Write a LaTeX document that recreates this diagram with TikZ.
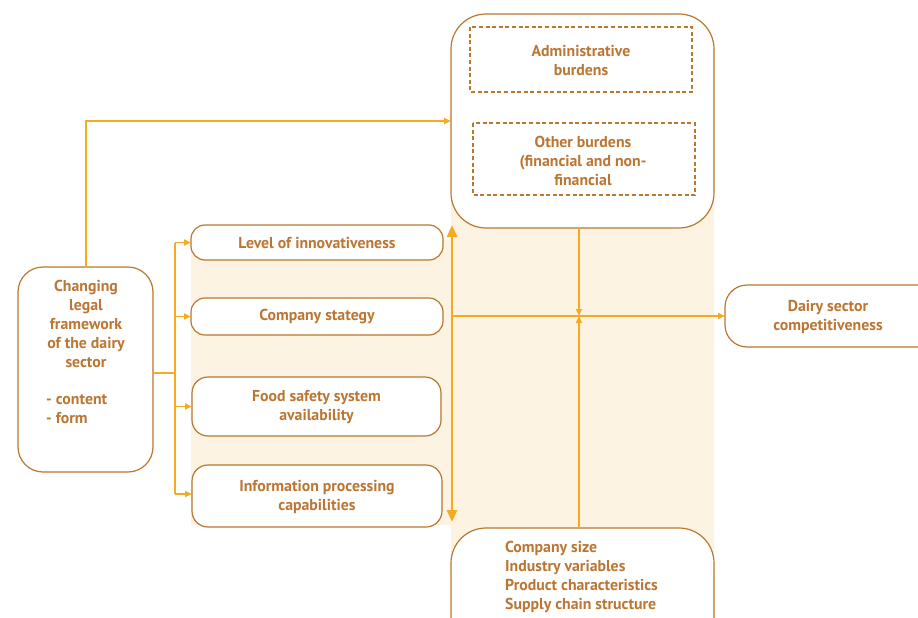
\documentclass[tikz,border=0pt]{standalone}
\usepackage{fontspec}
\setmainfont{PT Sans}
\usetikzlibrary{arrows.meta}
\definecolor{edge}{HTML}{B9772F}
\definecolor{ink}{HTML}{BB7633}
\definecolor{flow}{HTML}{F6AA1F}
\definecolor{cream}{HTML}{FDF3E3}
\begin{document}
\begin{tikzpicture}[x=1pt,y=-1pt,
  txt/.style={text=ink,font=\fontsize{15.8}{19}\selectfont\bfseries,inner sep=0pt},
  box/.style={draw=edge,line width=1.2pt,fill=white,rounded corners=#1},
  box/.default=14pt,
  burden/.style={draw=edge,line width=1.6pt,dash pattern=on 4pt off 2.6pt},
  link/.style={draw=flow,line width=1.8pt,-{Triangle[length=7pt,width=6pt]}},
  plain/.style={draw=flow,line width=1.8pt},
  bigarrow/.style={draw=flow,line width=2.6pt,{Triangle[length=12pt,width=10pt]}-{Triangle[length=12pt,width=10pt]}}]
\useasboundingbox (0,0) rectangle (918,618);

% cream band behind the middle column
\fill[cream] (191,240) rectangle (451,525);
\fill[cream] (451,150) rectangle (714,618);

% left box: the legal framework
\draw[box=25pt] (18,267) rectangle (153,472);
\node[txt,align=center,anchor=north] (lawtxt) at (86,280)
  {Changing\\legal\\framework\\of the dairy\\sector};
\node[txt,align=left,anchor=north west] (lawlist) at (46,394.5) {- content\\- form};
\coordinate (lawtop) at (86,267);
\coordinate (lawright) at (153,373);

% four company factors (box outline plus a named entry point on its left side)
\draw[box=14pt] (191,225) rectangle (443,260);
\coordinate (lvlin) at (191,242.5);
\node[txt] (lvl) at (317,243) {Level of innovativeness};
\draw[box=14pt] (191,298) rectangle (443,335);
\coordinate (stratin) at (191,316.5);
\node[txt] (strat) at (317,317) {Company stategy};
\draw[box=16pt] (192,377) rectangle (441,436);
\coordinate (foodin) at (192,406.5);
\node[txt,align=center] (food) at (316.5,407) {Food safety system\\availability};
\draw[box=16pt] (192,465) rectangle (442,527);
\coordinate (infoin) at (192,494);
\node[txt,align=center] (info) at (317,496.5) {Information processing\\capabilities};

% burdens box
\draw[box=35pt] (451,14) rectangle (714,228);
\coordinate (burdwest) at (451,121);
\coordinate (burdsouth) at (579,228);
\draw[burden] (470,27) rectangle (692,92);
\node[txt,align=center] (admin) at (581,60) {Administrative\\burdens};
\draw[burden] (473,123) rectangle (695,195);
\node[txt,align=center] (other) at (583,160.5) {Other burdens\\(financial and non-\\financial};

% outcome
\draw[box=22pt] (725,285) rectangle (960,347);
\coordinate (dairywest) at (725,316);
\node[txt,align=center] (dairy) at (828,316.5) {Dairy sector\\competitiveness};

% contextual variables
\draw[box=35pt] (451,528) rectangle (714,660);
\coordinate (ctxnorth) at (579,528);
\node[txt,align=left,anchor=north west] (ctx) at (505,541.5)
  {Company size\\Industry variables\\Product characteristics\\Supply chain structure};

% connectors
\coordinate (bus) at (175,373);
\coordinate (hub) at (579,316);
\coordinate (axis) at (452,316);
\coordinate (axtop) at (452,225);
\coordinate (axbot) at (452,522);

\draw[link] (lawtop) |- (burdwest);
\draw[plain] (lawright) -- (bus);
\draw[plain] (bus |- lvlin) -- (bus |- infoin);
\draw[link] (bus |- lvlin) -- (lvlin);
\draw[link] (bus |- stratin) -- (stratin);
\draw[link] (bus |- foodin) -- (foodin);
\draw[link] (bus |- infoin) -- (infoin);

\draw[bigarrow] (axtop) -- (axbot);
\draw[link] (axis) -- (dairywest);
\draw[link] (burdsouth) -- (hub);
\draw[link] (ctxnorth) -- (hub);
\end{tikzpicture}
\end{document}
